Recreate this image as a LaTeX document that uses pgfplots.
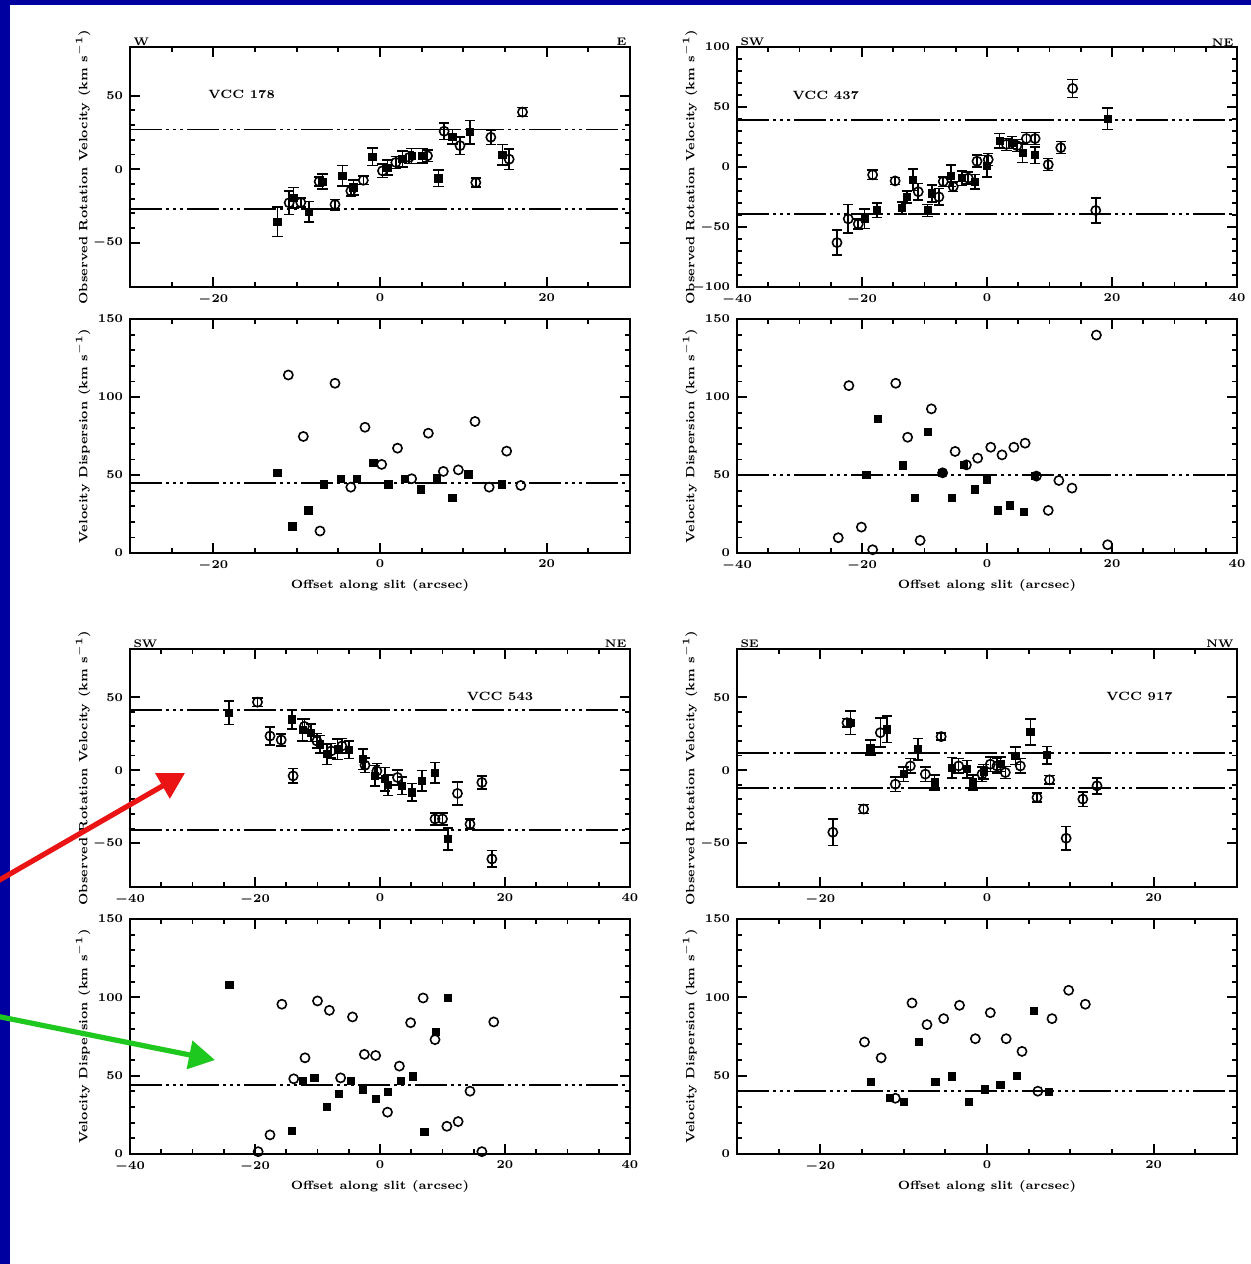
\documentclass[border=0pt]{standalone}
\usepackage{pgfplots}
\pgfplotsset{compat=1.18}
\usetikzlibrary{arrows.meta}
\definecolor{bgblue}{RGB}{0,0,160}
\definecolor{arrred}{RGB}{235,20,20}
\definecolor{arrgreen}{RGB}{30,200,30}
\tikzset{
  corner/.style={font=\fontsize{5.5}{6}\selectfont\bfseries, inner sep=0.3pt},
  gname/.style={font=\fontsize{6}{7}\selectfont\bfseries},
}
\pgfplotsset{
  panel/.style={scale only axis, width=250pt, axis line style={line width=1pt}, clip mode=individual,
    tick align=inside, major tick style={line width=1pt, black}, minor tick style={line width=0.9pt, black},
    major tick length=5pt, minor tick length=2.6pt,
    minor x tick num=3, minor y tick num=4,
    tick label style={font=\fontsize{6}{7}\selectfont\boldmath},
    label style={font=\fontsize{6}{7}\selectfont\bfseries},
    y label style={at={(axis description cs:-0.094,0.5)},anchor=center},
    x label style={at={(axis description cs:0.5,-0.14)},anchor=center},
    xtick={-40,-20,0,20,40}},
  vel/.style={panel, ylabel={Observed Rotation Velocity (km s$^{\mathbf{-1}}$)}},
  disp/.style={panel, height=117pt, ymin=0, ymax=150, ytick={0,50,100,150},
    ylabel={Velocity Dispersion (km s$^{\mathbf{-1}}$)}, xlabel={Offset along slit (arcsec)}},
  fsq/.style={only marks, mark=square*, mark size=1.8pt, black, mark options={fill=black}},
  ocirc/.style={only marks, mark=o, mark size=2.3pt, black, mark options={line width=0.8pt, fill=white}},
  errs/.style={error bars/.cd, y dir=both, y explicit, error bar style={line width=0.8pt, black},
    error mark options={rotate=90, mark size=2.6pt, line width=0.8pt, black}},
  ddd/.style={black, line width=0.9pt, dash pattern=on 16pt off 2pt on 1.5pt off 2pt on 1.5pt off 2pt on 1.5pt off 2pt},
}
\begin{document}
\begin{tikzpicture}
\useasboundingbox (0,0) rectangle (625.5pt,-632pt);
\fill[bgblue] (0,0) rectangle (625.5pt,-632pt);
\fill[white] (5pt,-2.5pt) rectangle (625.5pt,-632pt);

% ---------------- VCC 178 velocity
\begin{axis}[vel, at={(65pt,-143.5pt)}, anchor=south west, height=120pt,
  xmin=-30, xmax=30, ymin=-80, ymax=83, ytick={-50,0,50}]
\addplot[ddd] coordinates {(-30,27) (30,27)};
\addplot[ddd] coordinates {(-30,-27) (30,-27)};
\addplot[fsq, errs] table[row sep=\\, y error=e] {x y e\\
-12.3 -35.8 10\\ -10.4 -19.4 7\\ -8.5 -29 7\\ -6.9 -8.4 5\\ -4.5 -4.6 7\\ -3.2 -12.4 5\\
-0.9 8.4 6\\ 0.9 1.1 5\\ 2.7 6.8 5.5\\ 3.8 9 5\\ 5.1 9.1 5\\ 7.0 -6.2 5.5\\
8.7 22.1 5\\ 10.8 25.1 8\\ 14.7 9.8 7\\};
\addplot[ocirc, errs] table[row sep=\\, y error=e] {x y e\\
-10.9 -22.8 8\\ -9.5 -22.6 3\\ -7.3 -8.4 3\\ -5.4 -24 3.5\\ -3.5 -14.8 3.5\\ -2.0 -7.5 3\\
0.3 -1.1 4.5\\ 1.9 4.6 4\\ 3.5 8.0 4\\ 5.7 9.1 4\\ 7.7 25.8 5.5\\ 9.6 16 6\\
11.5 -9.1 3\\ 13.3 21.7 5\\ 15.5 6.8 7\\ 17.1 38.8 3\\};
\node[gname] at (axis cs:-16.6,50.7) {VCC 178};
\node[corner, anchor=south west] at (rel axis cs:0.005,1) {W};
\node[corner, anchor=south east] at (rel axis cs:0.995,1) {E};
\end{axis}

% ---------------- VCC 178 dispersion
\begin{axis}[disp, at={(65pt,-276.5pt)}, anchor=south west, xmin=-30, xmax=30]
\addplot[ddd] coordinates {(-30,45) (30,45)};
\addplot[fsq] table[row sep=\\] {x y\\
-12.3 51.4\\ -10.5 17.1\\ -8.6 27.3\\ -6.7 44.0\\ -4.7 47.6\\ -2.8 47.6\\ -0.8 57.6\\
1.0 44.0\\ 3.0 47.6\\ 4.9 40.8\\ 6.8 48.2\\ 8.7 35.4\\ 10.6 50.4\\ 14.6 44.0\\};
\addplot[ocirc] table[row sep=\\] {x y\\
-11.0 114.1\\ -9.2 74.7\\ -7.2 14.1\\ -5.4 108.8\\ -3.5 42.2\\ -1.8 80.6\\ 0.2 56.8\\
2.1 67.2\\ 3.8 47.6\\ 5.8 76.8\\ 7.6 52.3\\ 9.4 53.3\\ 11.4 84.3\\ 13.1 42.2\\ 15.2 65.3\\ 16.9 43.3\\};
\end{axis}

% ---------------- VCC 437 velocity
\begin{axis}[vel, at={(368.5pt,-143.5pt)}, anchor=south west, height=120pt,
  xmin=-40, xmax=40, ymin=-100, ymax=100, ytick={-100,-50,0,50,100}]
\addplot[ddd] coordinates {(-40,39) (40,39)};
\addplot[ddd] coordinates {(-40,-39) (40,-39)};
\addplot[fsq, errs] table[row sep=\\, y error=e] {x y e\\
-19.6 -43.2 8\\ -17.6 -36.2 6\\ -13.6 -34 5\\ -12.8 -24.9 5\\ -11.8 -10.7 9\\ -9.5 -36.2 5\\
-8.8 -22 7\\ -5.8 -7.1 9\\ -4.0 -9.3 6\\ -1.9 -12.1 6\\ 0.0 0.6 9\\ 2.0 21.8 6\\
4.0 20.3 5\\ 5.7 11.9 8\\ 7.7 9.9 7\\ 19.3 40.1 9\\};
\addplot[ocirc, errs] table[row sep=\\, y error=e] {x y e\\
-24.0 -63 10.5\\ -22.2 -43.2 12\\ -20.6 -47.5 4\\ -18.3 -6.5 4\\ -14.7 -11.6 3\\ -11.0 -20.6 7\\
-7.7 -24.9 7\\ -7.0 -12.1 4\\ -5.4 -16.4 4\\ -3.0 -9.3 5\\ -1.6 4.8 5\\ 0.2 6.2 5\\
3.1 18.9 5\\ 4.8 17.8 5\\ 6.3 23.7 5\\ 7.7 23.7 5\\ 9.8 2.0 5\\ 11.8 16.1 5\\
13.7 65.5 7.5\\ 17.4 -36.2 10.5\\};
\node[gname] at (axis cs:-25.8,59.3) {VCC 437};
\node[corner, anchor=south west] at (rel axis cs:0.005,1) {SW};
\node[corner, anchor=south east] at (rel axis cs:0.995,1) {NE};
\end{axis}

% ---------------- VCC 437 dispersion
\begin{axis}[disp, at={(368.5pt,-276.5pt)}, anchor=south west, xmin=-40, xmax=40]
\addplot[ddd] coordinates {(-40,50) (40,50)};
\addplot[fsq] table[row sep=\\] {x y\\
-19.3 50.1\\ -17.5 86.0\\ -13.4 56.1\\ -11.5 35.4\\ -9.5 77.4\\ -7.2 51.4\\ -5.6 35.4\\
-3.7 56.5\\ -2.0 40.8\\ 0.0 47.2\\ 1.8 27.3\\ 3.7 30.5\\ 5.9 26.2\\ 7.7 49.3\\};
\addplot[ocirc] table[row sep=\\] {x y\\
-23.8 9.8\\ -22.1 107.3\\ -20.1 16.6\\ -18.3 2.1\\ -14.6 108.8\\ -12.7 74.2\\ -10.7 8.1\\
-8.9 92.4\\ -7.1 51.4\\ -5.1 65.1\\ -3.3 56.5\\ -1.5 60.8\\ 0.6 67.8\\ 2.4 62.9\\
4.3 67.8\\ 6.1 70.4\\ 7.9 49.3\\ 9.8 27.3\\ 11.5 46.5\\ 13.6 41.6\\ 17.5 139.7\\ 19.3 5.3\\};
\end{axis}

% ---------------- VCC 543 velocity
\begin{axis}[vel, at={(65pt,-443.5pt)}, anchor=south west, height=119pt,
  xmin=-40, xmax=40, ymin=-80, ymax=83, ytick={-50,0,50}]
\addplot[ddd] coordinates {(-40,41) (40,41)};
\addplot[ddd] coordinates {(-40,-41) (40,-41)};
\addplot[fsq, errs] table[row sep=\\, y error=e] {x y e\\
-24.2 39.4 8\\ -14.1 34.8 6.5\\ -12.4 27.5 7.7\\ -11.0 25.7 6\\ -9.6 17.7 6\\ -8.5 10.9 7\\
-6.8 14.3 7\\ -5.0 13.9 6\\ -2.7 7.5 7\\ -0.8 -3.9 7\\ 0.8 -6.1 8\\ 1.3 -10.2 7\\
3.5 -10.7 6\\ 5.1 -15.2 6\\ 6.7 -7.3 7\\ 8.8 -1.6 7\\ 10.9 -47.1 7.5\\};
\addplot[ocirc, errs] table[row sep=\\, y error=e] {x y e\\
-19.6 46.6 3\\ -17.6 23.4 6\\ -15.8 20.7 4\\ -13.9 -3.9 5\\ -12.1 30 5\\ -10.1 20 5\\
-7.8 13.2 5\\ -6.1 16.6 5\\ -2.4 3.4 5\\ -0.5 -0.5 5\\ 2.8 -5.0 5\\ 8.8 -33.4 4\\
10.0 -33.4 4\\ 12.4 -15.9 8\\ 14.4 -36.9 3.5\\ 16.3 -8.4 4.5\\ 17.9 -60.8 5.7\\};
\node[gname] at (axis cs:19.2,50.5) {VCC 543};
\node[corner, anchor=south west] at (rel axis cs:0.005,1) {SW};
\node[corner, anchor=south east] at (rel axis cs:0.995,1) {NE};
\end{axis}

% ---------------- VCC 543 dispersion
\begin{axis}[disp, at={(65pt,-577pt)}, anchor=south west, height=117.5pt, xmin=-40, xmax=40]
\addplot[ddd] coordinates {(-40,44) (40,44)};
\addplot[fsq] table[row sep=\\] {x y\\
-24.1 107.7\\ -14.1 14.9\\ -12.4 46.5\\ -10.5 48.4\\ -8.5 30.3\\ -6.6 38.4\\ -4.7 46.9\\
-2.8 41.2\\ -0.7 35.2\\ 1.2 39.9\\ 3.3 46.9\\ 5.2 49.5\\ 7.1 14.3\\ 8.9 77.9\\ 10.8 99.6\\};
\addplot[ocirc] table[row sep=\\] {x y\\
-19.5 1.5\\ -17.6 12.2\\ -15.7 95.6\\ -13.8 48.0\\ -12.0 61.4\\ -10.0 97.7\\ -8.1 91.7\\
-6.3 48.6\\ -4.4 87.5\\ -2.5 63.6\\ -0.7 62.9\\ 1.2 26.7\\ 3.1 56.1\\ 4.9 83.8\\
6.9 99.6\\ 8.8 73.0\\ 10.7 17.7\\ 12.5 20.7\\ 14.4 40.1\\ 16.3 1.5\\ 18.2 84.3\\};
\end{axis}

% ---------------- VCC 917 velocity
\begin{axis}[vel, at={(368.5pt,-443.5pt)}, anchor=south west, height=119pt,
  xmin=-30, xmax=30, ymin=-80, ymax=83, ytick={-50,0,50}]
\addplot[ddd] coordinates {(-30,12) (30,12)};
\addplot[ddd] coordinates {(-30,-12) (30,-12)};
\addplot[fsq, errs] table[row sep=\\, y error=e] {x y e\\
-16.4 32.5 8\\ -14.0 15.5 5\\ -12.0 28.0 9\\ -10.0 -2.7 5\\ -8.3 14.3 7.5\\ -6.3 -8.4 5\\
-4.2 1.8 7\\ -2.4 0.7 6\\ -1.7 -8.4 5\\ -0.4 -1.1 5\\ 1.6 4.1 5\\ 3.4 9.8 6\\
5.2 26.1 9\\ 7.2 10.2 6\\};
\addplot[ocirc, errs] table[row sep=\\, y error=e] {x y e\\
-18.5 -42.5 9\\ -16.8 32.5 3\\ -14.8 -26.6 3\\ -12.8 25.7 10\\ -11.0 -9.6 5\\ -9.2 2.9 5\\
-7.4 -2.7 5\\ -5.5 23.0 2.5\\ -3.4 2.9 5\\ -0.6 -2.7 5\\ 0.4 4.1 5\\ 1.2 2.9 5\\
2.2 -1.6 4\\ 4.0 2.9 5\\ 6.0 -18.7 3\\ 7.5 -6.6 3\\ 9.5 -46.6 8\\ 11.5 -19.8 5\\ 13.2 -10.7 5.5\\};
\node[gname] at (axis cs:18.3,50.5) {VCC 917};
\node[corner, anchor=south west] at (rel axis cs:0.005,1) {SE};
\node[corner, anchor=south east] at (rel axis cs:0.995,1) {NW};
\end{axis}

% ---------------- VCC 917 dispersion
\begin{axis}[disp, at={(368.5pt,-577pt)}, anchor=south west, height=117.5pt, xmin=-30, xmax=30]
\addplot[ddd] coordinates {(-30,40) (30,40)};
\addplot[fsq] table[row sep=\\] {x y\\
-13.9 45.9\\ -11.7 35.6\\ -10.0 33.5\\ -8.2 71.5\\ -6.2 45.9\\ -4.2 49.5\\ -2.2 33.5\\
-0.3 41.2\\ 1.6 44.2\\ 3.6 50.1\\ 5.6 91.1\\ 7.4 39.9\\};
\addplot[ocirc] table[row sep=\\] {x y\\
-14.7 71.5\\ -12.7 61.4\\ -11.0 35.6\\ -9.0 96.4\\ -7.2 82.6\\ -5.2 86.4\\ -3.3 94.9\\
-1.4 73.6\\ 0.4 90.2\\ 2.3 73.6\\ 4.2 65.5\\ 6.1 40.1\\ 7.8 86.4\\ 9.8 104.5\\ 11.8 95.6\\};
\end{axis}

% ---------------- annotation arrows
\begin{scope}
\clip (0,0) rectangle (625.5pt,-632pt);
\draw[arrred, line width=2.6pt, -{Triangle[length=13pt,width=14pt]}] (-2pt,-441pt) -- (92.5pt,-386.5pt);
\draw[arrgreen, line width=2.6pt, -{Triangle[length=13pt,width=14pt]}] (-2pt,-508pt) -- (107.5pt,-530pt);
\end{scope}
\end{tikzpicture}
\end{document}
